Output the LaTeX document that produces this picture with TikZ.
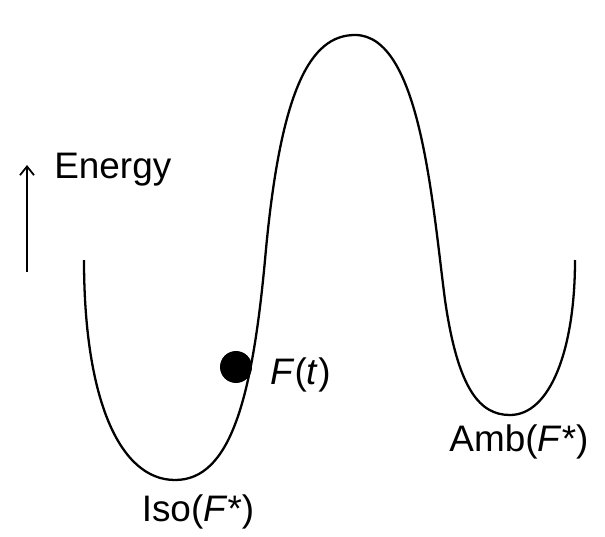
\documentclass[tikz,border=0pt]{standalone}
\usepackage{fontspec}
\setmainfont{Liberation Sans}
\usetikzlibrary{arrows.meta}
\begin{document}
\begin{tikzpicture}[x=0.02cm,y=-0.02cm]
        \tikzset{lbl/.style = {inner sep=0pt, font=\fontsize{21}{24}\selectfont}}
        \useasboundingbox (0,0) rectangle (605,537);
        \draw[line width=1.3pt] (84,260) .. controls (84,400) and (120,480) .. (175,480)
            .. controls (230,480) and (252,400) .. (265,260)
            .. controls (280,90) and (310,35) .. (355,35)
            .. controls (420,35) and (432,200) .. (445,300)
            .. controls (458,390) and (480,415) .. (510,415)
            .. controls (550,415) and (575,350) .. (575,260);
        \node(dot) [circle, fill, minimum size = 0.64cm, inner sep=0pt] at (236,367) {};
        \node(ft) [lbl, right=0pt] at (270,375) {\textit{F}(\textit{t})};
        \node(iso) [lbl] at (198,512) {Iso(\textit{F}*)};
        \node(amb) [lbl] at (519,442) {Amb(\textit{F}*)};
        \node(en) [lbl, right=0pt] at (54,170) {Energy};
        \coordinate(a0) at (27,272);
        \coordinate(a1) at (27,165);
        \draw[line width=1pt, -{Straight Barb[length=5pt,width=8pt]}] (a0) -- (a1);
\end{tikzpicture}
\end{document}
